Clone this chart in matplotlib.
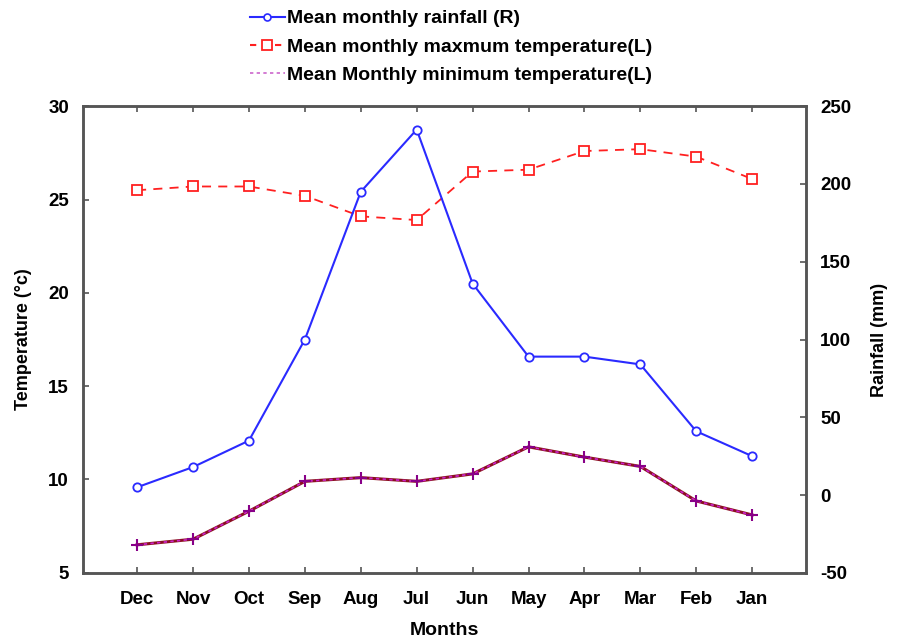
import matplotlib
matplotlib.use("Agg")
import matplotlib.pyplot as plt
from matplotlib.lines import Line2D

plt.rcParams['font.family'] = ['Liberation Sans', 'DejaVu Sans']
plt.rcParams['font.weight'] = 'bold'
plt.rcParams['axes.unicode_minus'] = False

months = ["Dec", "Nov", "Oct", "Sep", "Aug", "Jul", "Jun", "May", "Apr", "Mar", "Feb", "Jan"]
rainfall = [5, 18, 35, 100, 195, 235, 136, 89, 89, 84, 41, 25]
max_temp = [25.5, 25.7, 25.7, 25.2, 24.1, 23.9, 26.5, 26.6, 27.6, 27.7, 27.3, 26.1]
min_temp = [6.5, 6.8, 8.3, 9.9, 10.1, 9.9, 10.3, 11.75, 11.2, 10.7, 8.85, 8.1]

fig = plt.figure(figsize=(9.01, 6.4), dpi=100)
ax = fig.add_axes([0.092, 0.105, 0.803, 0.729])
ax2 = ax.twinx()

x = list(range(len(months)))
spine_col = '#555555'

# temperature (left axis)
ax.plot(x, max_temp, color='#ff2020', linestyle=(0, (5, 4)), linewidth=1.3,
        marker='s', markersize=7, markerfacecolor='white', markeredgecolor='#ff2020',
        markeredgewidth=1.3, zorder=3)
ax.plot(x, min_temp, color='#8a1020', linestyle='-', linewidth=2.2, zorder=3)
ax.plot(x, min_temp, color='#cc22cc', linestyle=(0, (2, 2)), linewidth=1.2,
        marker='+', markersize=9, markeredgecolor='#880088', markeredgewidth=1.5, zorder=4)

# rainfall (right axis)
ax2.plot(x, rainfall, color='#2a2aff', linestyle='-', linewidth=1.5,
         marker='o', markersize=6, markerfacecolor='white', markeredgecolor='#2a2aff',
         markeredgewidth=1.3, zorder=3)

ax.set_xlim(-0.97, 11.97)
ax.set_ylim(5, 30)
ax2.set_ylim(-50, 250)
ax.set_xticks(x)
ax.set_xticklabels(months)
ax.set_yticks([5, 10, 15, 20, 25, 30])
ax2.set_yticks([-50, 0, 50, 100, 150, 200, 250])

ax.tick_params(axis='x', direction='in', top=True, length=4, width=1.2, color=spine_col,
               labelsize=13.5, pad=13)
ax.tick_params(axis='y', direction='in', length=4, width=1.2, color=spine_col,
               labelsize=13.5, pad=10)
ax2.tick_params(axis='y', direction='in', length=4, width=1.2, color=spine_col,
                labelsize=13.5, pad=10)
for lab in ax.get_xticklabels() + ax.get_yticklabels() + ax2.get_yticklabels():
    lab.set_fontweight('bold')

for a in (ax, ax2):
    for s in a.spines.values():
        s.set_color(spine_col)
        s.set_linewidth(1.8)

ax.set_xlabel("Months", fontsize=14, fontweight='bold', labelpad=10)
ax.set_ylabel("Temperature (°c)", fontsize=13, fontweight='bold', labelpad=12)
ax2.set_ylabel("Rainfall (mm)", fontsize=13, fontweight='bold', labelpad=14)

handles = [
    Line2D([], [], color='#2a2aff', linestyle='-', linewidth=1.5, marker='o', markersize=5,
           markerfacecolor='white', markeredgecolor='#2a2aff', markeredgewidth=1.2),
    Line2D([], [], color='#ff2020', linestyle=(0, (3, 3)), linewidth=1.5, marker='s', markersize=7,
           markerfacecolor='white', markeredgecolor='#ff2020', markeredgewidth=1.3),
    Line2D([], [], color='#cc66cc', linestyle=(0, (2, 2)), linewidth=1.2),
]
labels = ["Mean monthly rainfall (R)",
          "Mean monthly maxmum temperature(L)",
          "Mean Monthly minimum temperature(L)"]
fig.legend(handles, labels, loc='upper left', bbox_to_anchor=(0.258, 1.012), frameon=False,
           prop={'size': 14, 'weight': 'bold'}, handlelength=1.8, handletextpad=0.1,
           labelspacing=0.55)

fig.savefig("out.png", dpi=100)
